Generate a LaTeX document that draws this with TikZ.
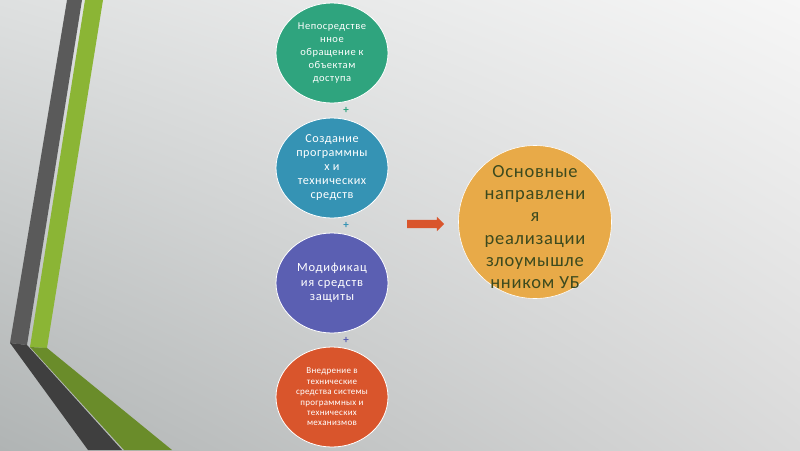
\documentclass[tikz,border=0pt]{standalone}
\usepackage{fontspec}
\setmainfont{Carlito}
\usetikzlibrary{shapes.geometric,shapes.arrows,shadings}
\definecolor{cteal}{HTML}{2FA47E}
\definecolor{cblue}{HTML}{3593B4}
\definecolor{cpurple}{HTML}{5B5FB2}
\definecolor{corange}{HTML}{D9552C}
\definecolor{cgold}{HTML}{E8AA48}
\definecolor{cgoldtext}{HTML}{3C4A1E}
\definecolor{bandgray}{HTML}{5A5A5A}
\definecolor{banddark}{HTML}{3F3F3F}
\definecolor{bandgreen}{HTML}{8BB535}
\definecolor{banddkgreen}{HTML}{6A8C2A}
\definecolor{bgul}{HTML}{DEE0E0}
\definecolor{bgur}{HTML}{F6F6F6}
\definecolor{bgll}{HTML}{B0B4B4}
\definecolor{bglr}{HTML}{DADADA}
\tikzset{
  stepcircle/.style={ellipse, draw=white, line width=0.8pt, minimum width=112pt, minimum height=100pt, inner sep=0pt},
  steptext/.style={align=center, text=white, inner sep=0pt},
  marker/.style={font=\fontsize{11}{11}\selectfont\bfseries, inner sep=0pt},
  goalcircle/.style={circle, fill=cgold, draw=white, line width=0.6pt, minimum size=153pt, inner sep=0pt},
  goaltext/.style={align=center, text=cgoldtext, inner sep=0pt, font=\fontsize{18.5}{22.2}\selectfont\addfontfeature{LetterSpace=4}},
  blockarrow/.style={single arrow, fill=corange, draw=none, single arrow head extend=3pt, minimum height=37pt, inner sep=0pt, single arrow head indent=0pt}
}
\begin{document}
\begin{tikzpicture}[x=1pt,y=-1pt]
\useasboundingbox (0,0) rectangle (800,450);
\shade[upper left=bgul, upper right=bgur, lower left=bgll, lower right=bglr] (0,0) rectangle (800,450);
% left bands
\fill[bandgray] (67,0) -- (82,0) -- (27,345) -- (10,343) -- cycle;
\fill[banddark] (10,343) -- (27,345) -- (122,450) -- (88,450) -- cycle;
\fill[bandgreen] (85,0) -- (103,0) -- (47,348) -- (30,347) -- cycle;
\fill[banddkgreen] (30,347) -- (47,348) -- (172,450) -- (124,450) -- cycle;
% circles
\node[stepcircle, fill=cteal] (c1) at (332,53) {};
\node[steptext, font=\fontsize{10.5}{13.2}\selectfont\addfontfeature{LetterSpace=5}] (t1) at (c1.center) {Непосредстве\\нное\\обращение к\\объектам\\доступа};
\node[stepcircle, fill=cblue] (c2) at (332,168) {};
\node[steptext, font=\fontsize{12.2}{14}\selectfont\addfontfeature{LetterSpace=4}] (t2) at (c2.center) {Создание\\программны\\х и\\технических\\средств};
\node[stepcircle, fill=cpurple] (c3) at (332,283) {};
\node[steptext, font=\fontsize{12.5}{14.6}\selectfont\addfontfeature{LetterSpace=6}] (t3) at (c3.center) {Модификац\\ия средств\\защиты};
\node[stepcircle, fill=corange] (c4) at (332,397) {};
\node[steptext, font=\fontsize{9}{10.4}\selectfont\addfontfeature{LetterSpace=3}] (t4) at (c4.center) {Внедрение в\\технические\\средства системы\\программных и\\технических\\механизмов};
% markers
\node[marker, text=cteal] (m1) at (346,110) {+};
\node[marker, text=cblue] (m2) at (346,225) {+};
\node[marker, text=cpurple] (m3) at (346,340) {+};
% arrow
\node[blockarrow] (arr) at (423.5,224) {\rule{0pt}{8pt}};
% goal
\node[goalcircle] (goal) at (535,222) {};
\node[goaltext] (gt) at (535,227) {Основные\\направлени\\я\\реализации\\злоумышле\\нником УБ};
\end{tikzpicture}
\end{document}
